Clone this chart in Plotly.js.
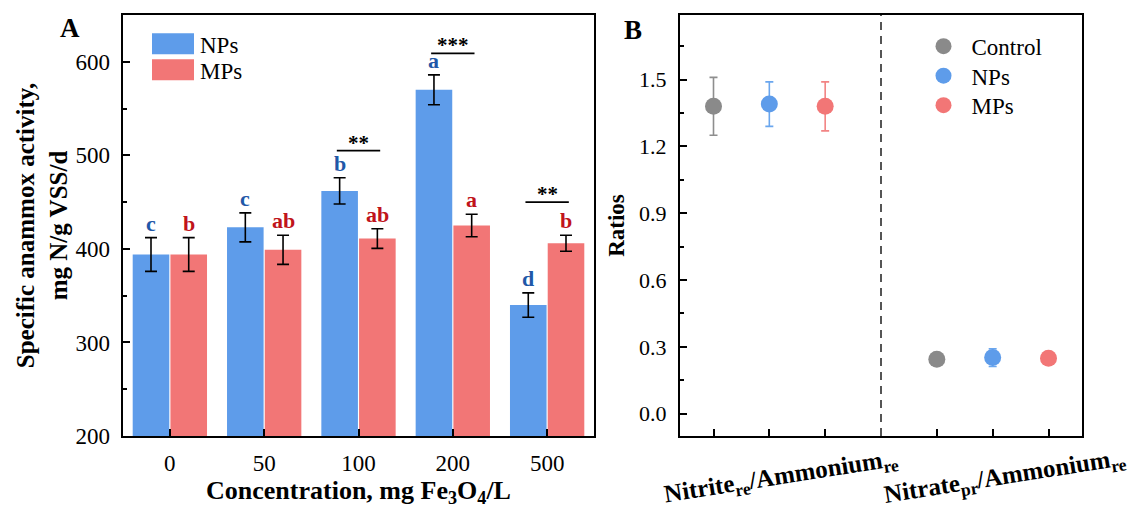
<!DOCTYPE html>
<html>
<head>
<meta charset="utf-8">
<script src="https://cdn.plot.ly/plotly-3.0.1.min.js"></script>
<style>
html,body{margin:0;padding:0;background:#fff;}
#chart{width:1131px;height:510px;}
</style>
</head>
<body>
<div id="chart"></div>
<script>
// ---- Panel A data ----
var concentrations = ['0', '50', '100', '200', '500'];
var npsActivity = [394, 423, 462, 570, 340];
var npsActivityErr = [18, 15.5, 14, 16, 13];
var mpsActivity = [394, 399, 411, 425, 406];
var mpsActivityErr = [18, 15.5, 10.5, 12, 8.5];
var npsLetters = ['c', 'c', 'b', 'a', 'd'];
var mpsLetters = ['b', 'ab', 'ab', 'a', 'b'];
var sigIndex = [2, 3, 4];
var sigLevel = [505, 609, 450];
var sigStars = ['**', '***', '**'];

// ---- Panel B data ----
var ratioNames = ['Nitrite<sub>re</sub>/Ammonium<sub>re</sub>', 'Nitrate<sub>pr</sub>/Ammonium<sub>re</sub>'];
var controlRatio = [1.38, 0.245];
var controlRatioErr = [0.13, 0.008];
var npsRatio = [1.39, 0.252];
var npsRatioErr = [0.10, 0.04];
var mpsRatio = [1.38, 0.249];
var mpsRatioErr = [0.11, 0.008];

var FONT = 'Liberation Serif, Times New Roman, serif';
var BLUE = '#5E9CEA', RED = '#F27676', GRAY = '#8A8A8A';
var BLUE_TXT = '#1F58A8', RED_TXT = '#C0141B';

var xIdx = concentrations.map(function (_, i) { return i; });
var barErrStyle = {type: 'data', visible: true, color: '#000', thickness: 1.6, width: 6};

var traces = [
  {type: 'bar', name: 'NPs', x: xIdx, y: npsActivity, marker: {color: BLUE},
   error_y: Object.assign({array: npsActivityErr}, barErrStyle), xaxis: 'x', yaxis: 'y', legend: 'legend'},
  {type: 'bar', name: 'MPs', x: xIdx, y: mpsActivity, marker: {color: RED},
   error_y: Object.assign({array: mpsActivityErr}, barErrStyle), xaxis: 'x', yaxis: 'y', legend: 'legend'}
];

// significance lines
var sigHalf = 0.23;
sigIndex.forEach(function (ix, k) {
  traces.push({type: 'scatter', mode: 'lines', x: [ix - sigHalf, ix + sigHalf], y: [sigLevel[k], sigLevel[k]],
    line: {color: '#000', width: 1.6}, showlegend: false, hoverinfo: 'skip', xaxis: 'x', yaxis: 'y'});
});

// Panel B scatter
var groupCenters = ratioNames.map(function (_, g) { return 2 + 4 * g; });
function ratioTrace(name, vals, errs, color, errColor, offset) {
  return {type: 'scatter', mode: 'markers', name: name,
    x: groupCenters.map(function (c) { return c + offset; }), y: vals,
    marker: {color: color, size: 17},
    error_y: {type: 'data', array: errs, visible: true, color: errColor, thickness: 1.6, width: 4},
    xaxis: 'x2', yaxis: 'y2', legend: 'legend2'};
}
traces.push(ratioTrace('Control', controlRatio, controlRatioErr, GRAY, '#8E8E8E', -1));
traces.push(ratioTrace('NPs', npsRatio, npsRatioErr, BLUE, '#6AA6EE', 0));
traces.push(ratioTrace('MPs', mpsRatio, mpsRatioErr, RED, '#F28484', 1));

var annotations = [];
xIdx.forEach(function (i) {
  annotations.push({xref: 'x', yref: 'y', x: i - 0.2, y: npsActivity[i] + npsActivityErr[i], text: '<b>' + npsLetters[i] + '</b>',
    showarrow: false, yanchor: 'bottom', yshift: 0, font: {family: FONT, size: 22, color: BLUE_TXT}});
  annotations.push({xref: 'x', yref: 'y', x: i + 0.2, y: mpsActivity[i] + mpsActivityErr[i], text: '<b>' + mpsLetters[i] + '</b>',
    showarrow: false, yanchor: 'bottom', yshift: 0, font: {family: FONT, size: 22, color: RED_TXT}});
});
sigIndex.forEach(function (ix, k) {
  annotations.push({xref: 'x', yref: 'y', x: ix, y: sigLevel[k], text: '<b>' + sigStars[k] + '</b>', showarrow: false,
    yanchor: 'bottom', yshift: -6, font: {family: FONT, size: 21, color: '#000'}});
});
// panel labels
annotations.push({xref: 'paper', yref: 'paper', x: 70 / 1131, y: 1 - 28 / 510, text: '<b>A</b>', showarrow: false,
  xanchor: 'center', yanchor: 'middle', font: {family: FONT, size: 27, color: '#000'}});
annotations.push({xref: 'paper', yref: 'paper', x: 633 / 1131, y: 1 - 30 / 510, text: '<b>B</b>', showarrow: false,
  xanchor: 'center', yanchor: 'middle', font: {family: FONT, size: 27, color: '#000'}});
// slanted category labels panel B
groupCenters.forEach(function (c, g) {
  annotations.push({xref: 'x2', yref: 'paper', x: c, xshift: 12, y: 1 - 477 / 510, text: '<b>' + ratioNames[g] + '</b>',
    showarrow: false, textangle: -9, xanchor: 'center', yanchor: 'middle', font: {family: FONT, size: 25, color: '#000'}});
});

var axBase = {showline: true, linecolor: '#000', linewidth: 2, mirror: true, ticks: 'inside', ticklen: 7, tickwidth: 2,
  tickcolor: '#000', showgrid: false, zeroline: false, tickfont: {family: FONT, size: 23, color: '#000'}};

var layout = {
  width: 1131, height: 510, margin: {l: 0, r: 0, t: 0, b: 0}, paper_bgcolor: '#fff', plot_bgcolor: '#fff',
  barmode: 'group', bargap: 0.2, bargroupgap: 0.03, showlegend: true,
  font: {family: FONT, color: '#000'},
  xaxis: Object.assign({}, axBase, {domain: [122.7 / 1131, 594.3 / 1131], range: [-0.5, 4.5], tickvals: xIdx, ticktext: concentrations,
    ticklabelstandoff: 5,
    title: {text: '<b>Concentration, mg Fe<sub>3</sub>O<sub>4</sub>/L</b>', font: {family: FONT, size: 26}, standoff: 3}}),
  yaxis: Object.assign({}, axBase, {domain: [1 - 436 / 510, 1 - 15 / 510], range: [200, 650], tickvals: [200, 300, 400, 500, 600],
    ticklabelstandoff: 6, minor: {ticks: 'inside', ticklen: 4, tickwidth: 2, tickcolor: '#000', dtick: 50, showgrid: false},
    title: {text: '<b>Specific anammox activity,<br>mg N/g VSS/d</b>', font: {family: FONT, size: 25}, standoff: 1}}),
  xaxis2: Object.assign({}, axBase, {domain: [680 / 1131, 1082 / 1131], range: [0.4, 7.6], tickvals: [1, 2, 3, 5, 6, 7],
    showticklabels: false, anchor: 'y2'}),
  yaxis2: Object.assign({}, axBase, {domain: [1 - 436 / 510, 1 - 15 / 510], range: [-0.1, 1.79], tickvals: [0, 0.3, 0.6, 0.9, 1.2, 1.5],
    ticktext: ['0.0', '0.3', '0.6', '0.9', '1.2', '1.5'], ticklabelstandoff: 7, tickfont: {family: FONT, size: 22, color: '#000'},
    minor: {ticks: 'inside', ticklen: 4, tickwidth: 2, tickcolor: '#000', tickvals: [0.15, 0.45, 0.75, 1.05, 1.35, 1.65], showgrid: false},
    anchor: 'x2', title: {text: '<b>Ratios</b>', font: {family: FONT, size: 23}, standoff: 8}}),
  legend: {x: 150 / 1131, y: 1 - 28 / 510, xanchor: 'left', yanchor: 'top', bgcolor: 'rgba(0,0,0,0)', itemwidth: 44,
    font: {family: FONT, size: 23, color: '#000'}},
  legend2: {x: 915 / 1131, y: 1 - 28 / 510, xanchor: 'left', yanchor: 'top', bgcolor: 'rgba(0,0,0,0)', itemwidth: 46,
    font: {family: FONT, size: 23, color: '#000'}},
  shapes: [{type: 'line', xref: 'x2', yref: 'paper', x0: 4, x1: 4, y0: 1 - 436 / 510, y1: 1 - 15 / 510,
    line: {color: '#555', width: 2, dash: '8px,6px'}}],
  annotations: annotations
};

function parseT(el) {
  var m = /translate\(\s*([-\d.e]+)[ ,]+([-\d.e]+)/.exec(el.getAttribute('transform') || '');
  return m ? [parseFloat(m[1]), parseFloat(m[2])] : [0, 0];
}
// restyle legend keys: large bar swatches and spacing like the reference
function tuneLegend(cls, opts) {
  var g = document.querySelector('g.' + cls);
  if (!g) return;
  var sb = g.querySelector('.scrollbox');
  if (sb) sb.removeAttribute('clip-path');
  g.removeAttribute('clip-path');
  var items = g.querySelectorAll('g.traces');
  if (!items.length) return;
  if (opts.bar) {
    items.forEach(function (it) {
      it.querySelectorAll('.legendpoints path').forEach(function (p) {
        p.setAttribute('d', 'M21,10.5H-21V-10.5H21Z');
      });
    });
  }
  var first = parseT(items[0]);
  items.forEach(function (it, i) {
    it.setAttribute('transform', 'translate(' + first[0] + ',' + (first[1] + i * opts.spacing) + ')');
  });
  var key = items[0].querySelector('.legendpoints path');
  if (!key) return;
  var r = key.getBoundingClientRect();
  if (!(r.width > 0)) return;
  var dx = opts.left - r.left, dy = opts.top - r.top;
  items.forEach(function (it) {
    var p = parseT(it);
    it.setAttribute('transform', 'translate(' + (p[0] + dx) + ',' + (p[1] + dy) + ')');
  });
}

Plotly.newPlot('chart', traces, layout, {staticPlot: true, displayModeBar: false}).then(function () {
  tuneLegend('legend', {bar: true, spacing: 26, left: 152, top: 33.3});
  tuneLegend('legend2', {bar: false, spacing: 29.5, left: 935.5, top: 38.2});
});
</script>
</body>
</html>
